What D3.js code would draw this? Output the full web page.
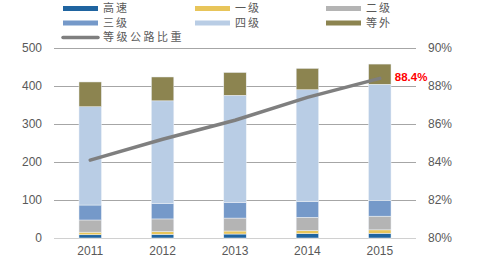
<!DOCTYPE html>
<html>
<head>
<meta charset="utf-8">
<script src="https://cdn.jsdelivr.net/npm/d3@7"></script>
<style>
	body { margin: 0; background: #fff; }
	svg { display: block; }
</style>
</head>
<body>
<div id="svg-container"></div>
<script>
// DATA (万公里)
const years = ['2011', '2012', '2013', '2014', '2015'];
const seriesNames = ['高速', '一级', '二级', '三级', '四级', '等外'];
const gaosu = [8.49, 9.62, 10.44, 11.19, 12.35];
const yiji = [6.86, 7.42, 7.95, 8.54, 9.10];
const erji = [32.05, 33.15, 34.05, 34.84, 36.00];
const sanji = [39.36, 40.19, 40.70, 41.42, 41.84];
const siji = [258.60, 270.58, 282.42, 294.09, 305.34];
const dengwai = [65.28, 62.79, 60.06, 56.31, 53.10];
const ratio = [84.1, 85.2, 86.2, 87.4, 88.4];
const leftTicks = [0, 100, 200, 300, 400, 500];
const rightTicks = [80, 82, 84, 86, 88, 90];
const lineName = '等级公路比重';

const colors = ['#1f64a0', '#e8c55a', '#b4b4b4', '#7599c9', '#b9cde5', '#8c8450'];

function graphData() {
	const w = 480;
	const h = 262;
	const padTop = 48;
	const padBottom = 24;
	const padLeft = 54;
	const padRight = 64;

	const svg = d3.select('#svg-container')
		.append('svg')
		.attr('width', w)
		.attr('height', h);

	// scales
	const xScale = d3.scaleBand()
		.domain(years)
		.range([padLeft, w - padRight])
		.paddingInner(0.69)
		.paddingOuter(0.345);
	const yScale = d3.scaleLinear()
		.domain([0, 500])
		.range([h - padBottom, padTop]);
	const yRight = d3.scaleLinear()
		.domain([80, 90])
		.range([h - padBottom, padTop]);

	// grid
	svg.append('g')
		.selectAll('line')
		.data(leftTicks)
		.enter()
		.append('line')
		.attr('x1', padLeft)
		.attr('x2', w - padRight)
		.attr('y1', d => Math.round(yScale(d)) + 0.5)
		.attr('y2', d => Math.round(yScale(d)) + 0.5)
		.attr('stroke', d => d === 0 ? '#d0d0d0' : '#a6a6a6')
		.attr('stroke-width', 1);

	// stacked bars
	const rows = years.map((y, i) => ({
		year: y,
		'高速': gaosu[i], '一级': yiji[i], '二级': erji[i],
		'三级': sanji[i], '四级': siji[i], '等外': dengwai[i]
	}));
	const stack = d3.stack().keys(seriesNames)(rows);

	svg.append('g')
		.selectAll('g')
		.data(stack)
		.enter()
		.append('g')
		.attr('fill', (d, i) => colors[i])
		.selectAll('rect')
		.data(d => d)
		.enter()
		.append('rect')
		.attr('x', d => xScale(d.data.year))
		.attr('width', xScale.bandwidth())
		.attr('y', d => yScale(d[1]))
		.attr('height', d => yScale(d[0]) - yScale(d[1]))
		.attr('stroke', '#eef2f7')
		.attr('stroke-width', 0.5);

	// line
	const line = d3.line()
		.x((d, i) => xScale(years[i]) + xScale.bandwidth() / 2)
		.y(d => yRight(d));
	svg.append('path')
		.datum(ratio)
		.attr('d', line)
		.attr('fill', 'none')
		.attr('stroke', '#7f7f7f')
		.attr('stroke-width', 3.5)
		.attr('stroke-linecap', 'round');

	// last value label
	const last = ratio.length - 1;
	svg.append('text')
		.attr('x', xScale(years[last]) + xScale.bandwidth() / 2 + 15)
		.attr('y', yRight(ratio[last]) + 3)
		.attr('fill', '#ff0000')
		.attr('font-family', 'Liberation Sans, Arial, sans-serif')
		.attr('font-weight', 'bold')
		.attr('font-size', 11.5)
		.text(ratio[last].toFixed(1) + '%');

	// axes
	const axisFont = 'Liberation Sans, Arial, sans-serif';
	const leftAxis = svg.append('g')
		.attr('transform', `translate(${padLeft},0)`)
		.call(d3.axisLeft(yScale).tickValues(leftTicks).tickSize(0).tickPadding(12));
	const rightAxis = svg.append('g')
		.attr('transform', `translate(${w - padRight},0)`)
		.call(d3.axisRight(yRight).tickValues(rightTicks).tickSize(0).tickPadding(12)
			.tickFormat(d => d + '%'));
	const bottomAxis = svg.append('g')
		.attr('transform', `translate(0,${h - padBottom})`)
		.call(d3.axisBottom(xScale).tickSize(0).tickPadding(8));
	[leftAxis, rightAxis, bottomAxis].forEach(a => {
		a.select('.domain').remove();
		a.selectAll('text')
			.attr('fill', '#595959')
			.attr('font-family', axisFont)
			.attr('font-size', 12);
	});

	// legend
	const legendFont = 'Noto Sans CJK SC, sans-serif';
	const legendX = [63, 195, 326];
	const legendY = [8.5, 23];
	seriesNames.forEach((name, i) => {
		const col = i % 3;
		const row = Math.floor(i / 3);
		const g = svg.append('g')
			.attr('transform', `translate(${legendX[col]},${legendY[row]})`);
		g.append('rect')
			.attr('x', 0)
			.attr('y', -2.5)
			.attr('width', 35)
			.attr('height', 5)
			.attr('fill', colors[i]);
		g.append('text')
			.attr('x', 40)
			.attr('y', 0)
			.attr('dy', '0.36em')
			.attr('fill', '#595959')
			.attr('font-family', legendFont)
			.attr('font-size', 11)
			.attr('letter-spacing', 2)
			.text(name);
	});
	const lg = svg.append('g').attr('transform', 'translate(63,37.5)');
	lg.append('line')
		.attr('x1', 0).attr('x2', 35)
		.attr('stroke', '#7f7f7f')
		.attr('stroke-width', 3.5)
		.attr('stroke-linecap', 'round');
	lg.append('text')
		.attr('x', 40)
		.attr('y', 0)
		.attr('dy', '0.36em')
		.attr('fill', '#595959')
		.attr('font-family', legendFont)
		.attr('font-size', 11)
		.attr('letter-spacing', 2.5)
		.text(lineName);
}

document.addEventListener('DOMContentLoaded', () => {
	graphData();
});
</script>
</body>
</html>
